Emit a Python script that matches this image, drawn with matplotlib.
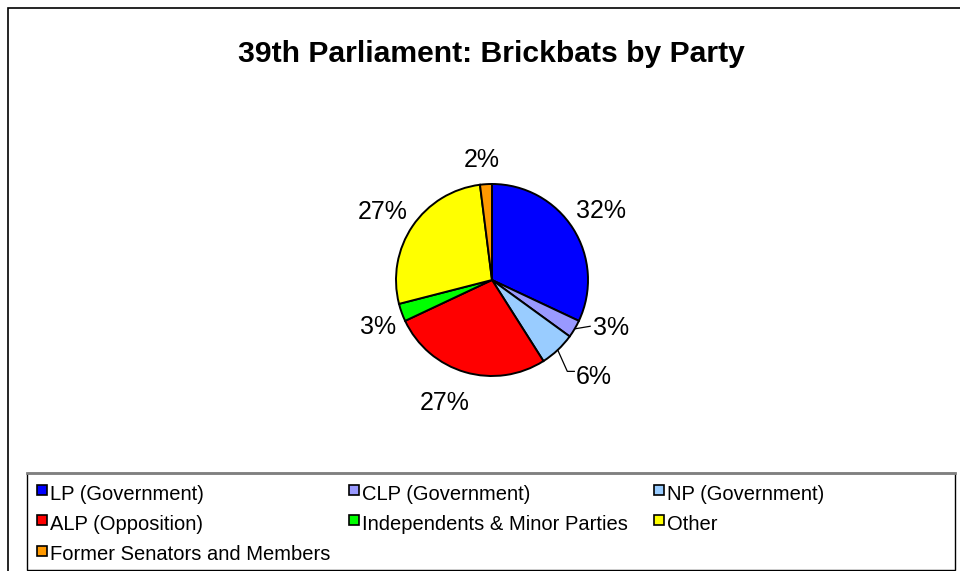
import numpy as np
import matplotlib.pyplot as plt
from matplotlib.patches import Rectangle
from matplotlib.lines import Line2D

plt.rcParams['font.family'] = ['Liberation Sans', 'DejaVu Sans']

parties = ["LP (Government)", "CLP (Government)", "NP (Government)",
           "ALP (Opposition)", "Independents & Minor Parties", "Other",
           "Former Senators and Members"]
share = [32, 3, 6, 27, 3, 27, 2]
colours = ["#0000FF", "#9999FF", "#99CCFF", "#FF0000", "#00FF00", "#FFFF00", "#FF9900"]

# label placement: (radius factor, angle nudge in degrees)
label_pos = [(1.35, 0), (1.34, 8.6), (1.46, 3.2), (1.37, -4.7),
             (1.28, 2.6), (1.34, 2.2), (1.25, 1.2)]

W, H = 960, 571
fig = plt.figure(figsize=(W / 100, H / 100), dpi=100)

def fx(px):
    return px / W

def fy(py):
    return 1 - py / H

# chart border (right and bottom run off the picture)
fig.patches.append(Rectangle((fx(8), -0.5), 2, fy(8) + 0.5,
                             transform=fig.transFigure, fill=False,
                             edgecolor="black", linewidth=1.2))

fig.text(fx(491), fy(62), "39th Parliament: Brickbats by Party",
         fontsize=21.7, fontweight="bold", ha="center", va="baseline")

# pie, centre (492,280) px, radius 96 px
ax = fig.add_axes([fx(492 - 192), fy(280 + 192), 384 / W, 384 / H])
wedges, _ = ax.pie(share, colors=colours, startangle=90, counterclock=False,
                   radius=1, wedgeprops=dict(edgecolor="black", linewidth=1.4))
ax.set_xlim(-2, 2)
ax.set_ylim(-2, 2)
ax.set_aspect("auto")
ax.axis("off")

total = sum(share)
for i, w in enumerate(wedges):
    mid = np.deg2rad((w.theta1 + w.theta2) / 2)
    r, nudge = label_pos[i]
    a = mid + np.deg2rad(nudge)
    lx, ly = r * np.cos(a), r * np.sin(a)
    ex, ey = np.cos(mid), np.sin(mid)
    txt = f"{share[i] / total * 100:.0f}%"
    if i == 1:
        ax.plot([ex, lx - 0.22], [ey, ly + 0.02], color="black", lw=0.9)
    elif i == 2:
        ax.plot([ex, ex + 0.1, lx - 0.2], [ey, ly + 0.055, ly + 0.055],
                color="black", lw=0.9)
    ax.text(lx, ly, txt, fontsize=18, ha="center", va="center")

# legend box
fig.patches.append(Rectangle((fx(27), fy(570)), (955 - 27) / W, (570 - 473) / H,
                             transform=fig.transFigure, fill=False,
                             edgecolor="black", linewidth=1.0))
fig.lines.append(Line2D([fx(27), fx(955)], [fy(473), fy(473)],
                        transform=fig.transFigure, color="#808080", linewidth=2))

col_x = [50, 362, 667]
row_y = [494, 524, 555]
for i, (name, col) in enumerate(zip(parties, colours)):
    x = col_x[i % 3]
    y = row_y[i // 3]
    fig.patches.append(Rectangle((fx(x - 13), fy(y + 1)), 10 / W, 10 / H,
                                 transform=fig.transFigure, facecolor=col,
                                 edgecolor="black", linewidth=1.2))
    fig.text(fx(x), fy(y), name, fontsize=14.5, ha="left", va="center")

fig.savefig("out.png", dpi=100)
